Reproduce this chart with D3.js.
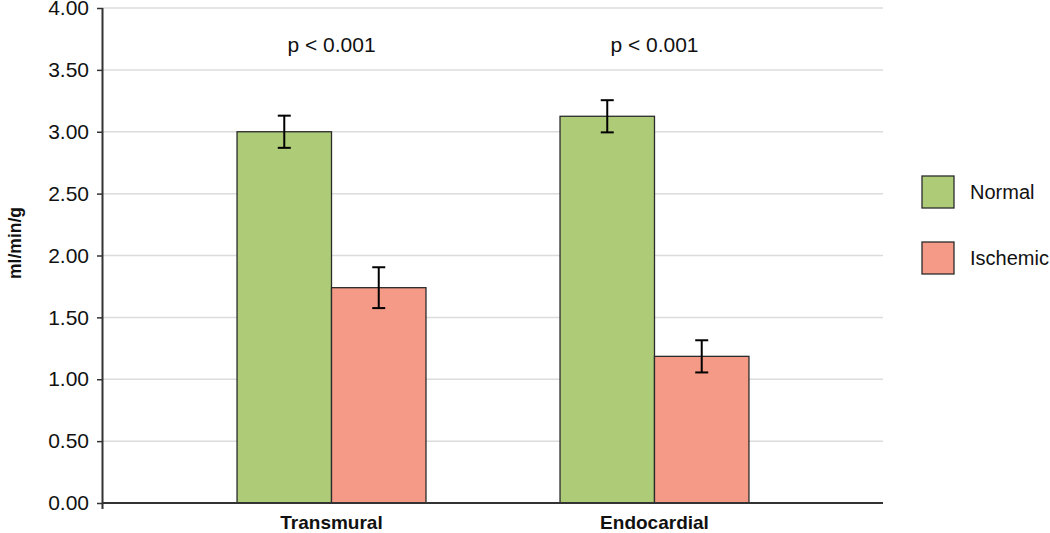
<!DOCTYPE html>
<html>
<head>
<meta charset="utf-8">
<script src="https://cdn.jsdelivr.net/npm/d3@7"></script>
<style>
  html, body { margin: 0; padding: 0; background: #fff; }
  svg { display: block; font-family: "Liberation Sans", Arial, Helvetica, sans-serif; }
</style>
</head>
<body>
<svg id="chart" width="1050" height="533"></svg>
<script>
const categories = ["Transmural", "Endocardial"];
const seriesNames = ["Normal", "Ischemic"];
const normalValues = [3.00, 3.125];
const normalErrors = [0.13, 0.13];
const ischemicValues = [1.74, 1.185];
const ischemicErrors = [0.165, 0.13];
const pLabels = ["p < 0.001", "p < 0.001"];
const yTicks = [0, 0.5, 1, 1.5, 2, 2.5, 3, 3.5, 4];
const colors = ["#aecb78", "#f49a87"];

const svg = d3.select("#chart");
const plotLeft = 103, plotRight = 883, plotTop = 8, plotBottom = 503;

const y = d3.scaleLinear().domain([0, 4]).range([plotBottom, plotTop]);
const x0 = d3.scaleBand().domain(categories).range([plotLeft, plotRight]).paddingInner(0.415).paddingOuter(0.415);
const x1 = d3.scaleBand().domain(seriesNames).range([0, x0.bandwidth()]);

// gridlines
svg.append("g").selectAll("line").data(yTicks.filter(d => d > 0)).join("line")
  .attr("x1", plotLeft).attr("x2", plotRight)
  .attr("y1", d => y(d)).attr("y2", d => y(d))
  .attr("stroke", "#dcdcdc").attr("stroke-width", 1.5);

// data rows
const rows = categories.map((c, i) => [
  { cat: c, s: seriesNames[0], v: normalValues[i], e: normalErrors[i], color: colors[0] },
  { cat: c, s: seriesNames[1], v: ischemicValues[i], e: ischemicErrors[i], color: colors[1] }
]).flat();

// bars
svg.append("g").selectAll("rect").data(rows).join("rect")
  .attr("x", d => x0(d.cat) + x1(d.s))
  .attr("y", d => y(d.v))
  .attr("width", x1.bandwidth())
  .attr("height", d => y(0) - y(d.v))
  .attr("fill", d => d.color)
  .attr("stroke", "#2b2b2b").attr("stroke-width", 1.3);

// error bars
const eg = svg.append("g").attr("stroke", "#000").attr("stroke-width", 2);
rows.forEach(d => {
  const cx = x0(d.cat) + x1(d.s) + x1.bandwidth() / 2;
  eg.append("line").attr("x1", cx).attr("x2", cx).attr("y1", y(d.v + d.e)).attr("y2", y(d.v - d.e));
  eg.append("line").attr("x1", cx - 6.5).attr("x2", cx + 6.5).attr("y1", y(d.v + d.e)).attr("y2", y(d.v + d.e));
  eg.append("line").attr("x1", cx - 6.5).attr("x2", cx + 6.5).attr("y1", y(d.v - d.e)).attr("y2", y(d.v - d.e));
});

// x axis line
svg.append("line").attr("x1", plotLeft).attr("x2", plotRight).attr("y1", y(0)).attr("y2", y(0))
  .attr("stroke", "#333").attr("stroke-width", 2);

// y axis
const yAxis = d3.axisLeft(y).tickValues(yTicks).tickFormat(d => d.toFixed(2))
  .tickSize(6).tickSizeOuter(0).tickPadding(8);
const ya = svg.append("g").attr("transform", `translate(${plotLeft},0)`).call(yAxis);
ya.select(".domain").remove();
ya.selectAll(".tick line").attr("stroke", "#333").attr("stroke-width", 1.5);
ya.selectAll(".tick text").attr("font-size", 21).attr("fill", "#111")
  .attr("font-family", "'Liberation Sans', Arial, sans-serif");
svg.append("line").attr("x1", plotLeft - 0.5).attr("x2", plotLeft - 0.5).attr("y1", plotTop).attr("y2", plotBottom + 6)
  .attr("stroke", "#333").attr("stroke-width", 2);

// category labels
svg.append("g").selectAll("text").data(categories).join("text")
  .attr("x", d => x0(d) + x0.bandwidth() / 2).attr("y", 529)
  .attr("text-anchor", "middle").attr("font-size", 19).attr("font-weight", "bold").attr("fill", "#111")
  .text(d => d);

// p labels
svg.append("g").selectAll("text").data(categories).join("text")
  .attr("x", d => x0(d) + x0.bandwidth() / 2).attr("y", 52)
  .attr("text-anchor", "middle").attr("font-size", 21).attr("fill", "#111")
  .text((d, i) => pLabels[i]);

// y title
svg.append("text").attr("transform", "translate(21,243) rotate(-90)")
  .attr("text-anchor", "middle").attr("font-size", 17.5).attr("font-weight", "bold").attr("fill", "#111")
  .text("ml/min/g");

// legend
const lg = svg.append("g").selectAll("g").data(seriesNames).join("g")
  .attr("transform", (d, i) => `translate(922,${176 + i * 66})`);
lg.append("rect").attr("width", 32).attr("height", 32)
  .attr("fill", (d, i) => colors[i]).attr("stroke", "#2b2b2b").attr("stroke-width", 1.3);
lg.append("text").attr("x", 48).attr("y", 23).attr("font-size", 20).attr("fill", "#111").text(d => d);
</script>
</body>
</html>
